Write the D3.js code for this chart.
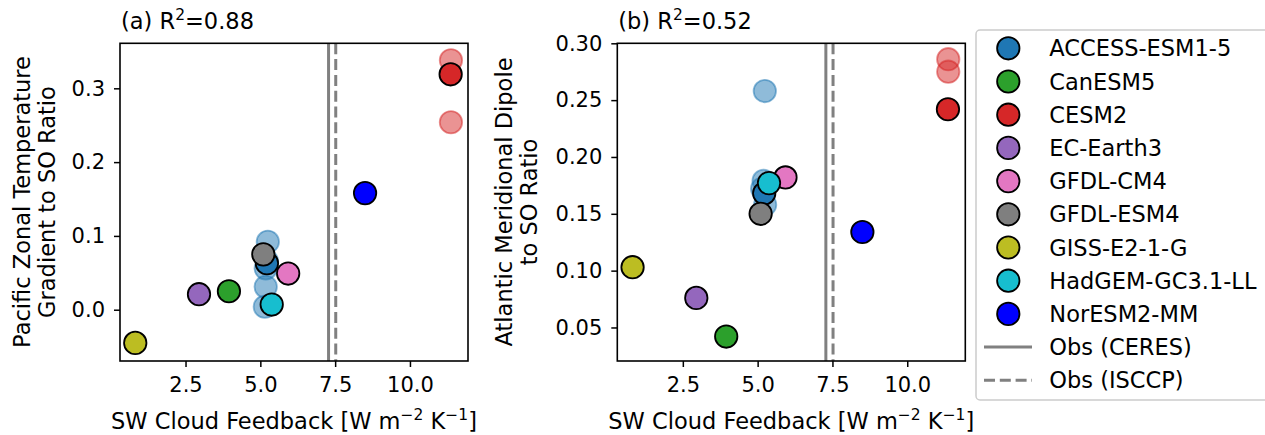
<!DOCTYPE html>
<html><head><meta charset="utf-8">
<script src="https://cdn.jsdelivr.net/npm/d3@7"></script>
<style>body{margin:0;background:#fff}svg{display:block}text{font-family:"DejaVu Sans",sans-serif;fill:#000}</style>
</head><body><svg id="c" width="1265" height="435"></svg>
<script>
const models = ["ACCESS-ESM1-5","CanESM5","CESM2","EC-Earth3","GFDL-CM4","GFDL-ESM4","GISS-E2-1-G","HadGEM-GC3.1-LL","NorESM2-MM"];
const colors = ["#1f77b4","#2ca02c","#d62728","#9467bd","#e377c2","#7f7f7f","#bcbd22","#17becf","#0000ff"];
const swFeedback = [5.22, 3.95, 11.36, 2.95, 5.93, 5.10, 0.82, 5.38, 8.50];
const pacificRatio = [0.063, 0.025, 0.319, 0.021, 0.049, 0.075, -0.045, 0.007, 0.158];
const atlanticRatio = [0.168, 0.042, 0.242, 0.076, 0.182, 0.150, 0.103, 0.177, 0.134];
// ensemble members (faded): [modelIndex, x, y]
const pacificMembers = [[0,5.25,0.092],[0,5.18,0.056],[0,5.18,0.031],[0,5.15,0.004],[0,5.22,0.066],[2,11.37,0.338],[2,11.37,0.254]];
const atlanticMembers = [[0,5.24,0.258],[0,5.20,0.179],[0,5.25,0.158],[0,5.15,0.172],[2,11.37,0.286],[2,11.37,0.275]];
const obsCERES = 7.28, obsISCCP = 7.52;
const xTicks = [2.5,5.0,7.5,10.0];
const pacTicks = [0.0,0.1,0.2,0.3];
const atlTicks = [0.05,0.10,0.15,0.20,0.25,0.30];

const svg = d3.select("#c");
const FS = 21;
const LFS = "22.5px";

function panel(opt){
  const g = svg.append("g");
  const x = d3.scaleLinear().domain([0.31,11.94]).range([opt.left, opt.left+348]);
  const y = d3.scaleLinear().domain(opt.ydom).range([361, 43.3]);
  g.append("line").attr("x1",x(obsCERES)).attr("x2",x(obsCERES)).attr("y1",43.3).attr("y2",361)
    .attr("stroke","#808080").attr("stroke-width",3);
  g.append("line").attr("x1",x(obsISCCP)).attr("x2",x(obsISCCP)).attr("y1",43.3).attr("y2",361)
    .attr("stroke","#808080").attr("stroke-width",3).attr("stroke-dasharray","11,4.8");
  models.forEach((m,i)=>{
    opt.members.filter(d=>d[0]===i).forEach(d=>{
      g.append("circle").attr("cx",x(d[1])).attr("cy",y(d[2])).attr("r",11.2)
        .attr("fill",colors[i]).attr("fill-opacity",0.5)
        .attr("stroke",colors[i]).attr("stroke-opacity",0.5).attr("stroke-width",1.8);
    });
  });
  models.forEach((m,i)=>{
    g.append("circle").attr("cx",x(swFeedback[i])).attr("cy",y(opt.vals[i])).attr("r",11.2)
      .attr("fill",colors[i]).attr("stroke","#000").attr("stroke-width",1.8);
  });
  const xa = g.append("g").attr("transform","translate(0,361)")
    .call(d3.axisBottom(x).tickValues(xTicks).tickFormat(d3.format(".1f")).tickSize(6).tickPadding(9));
  const ya = g.append("g").attr("transform",`translate(${opt.left},0)`)
    .call(d3.axisLeft(y).tickValues(opt.ticks).tickFormat(d3.format(opt.fmt)).tickSize(6).tickPadding(9));
  [xa,ya].forEach(a=>{
    a.select(".domain").remove();
    a.selectAll("line").attr("stroke","#000").attr("stroke-width",1.5);
    a.selectAll("text").style("font-size",FS+"px").style("font-family","DejaVu Sans").attr("fill","#000");
  });
  xa.selectAll("text").attr("dy","0.75em");
  g.append("rect").attr("x",opt.left).attr("y",43.3).attr("width",348).attr("height",361-43.3)
    .attr("fill","none").attr("stroke","#000").attr("stroke-width",1.6);
  const t = g.append("text").attr("x",opt.left+1).attr("y",29).style("font-size",LFS);
  t.append("tspan").text(opt.title);
  t.append("tspan").attr("dy",-9).style("font-size","15.5px").text("2");
  t.append("tspan").attr("dy",9).text("="+opt.r2);
  const xl = g.append("text").attr("x",opt.left+174).attr("y",429).attr("text-anchor","middle").style("font-size",LFS);
  xl.append("tspan").text("SW Cloud Feedback [W m");
  xl.append("tspan").attr("dy",-9).style("font-size","15.5px").text("\u22122");
  xl.append("tspan").attr("dy",9).text(" K");
  xl.append("tspan").attr("dy",-9).style("font-size","15.5px").text("\u22121");
  xl.append("tspan").attr("dy",9).text("]");
  opt.ylab.forEach((s,k)=>{
    g.append("text").attr("transform",`translate(${opt.ylx[k]},202) rotate(-90)`)
      .attr("text-anchor","middle").style("font-size",LFS).text(s);
  });
}

panel({left:120, ydom:[-0.0695,0.361], vals:pacificRatio, members:pacificMembers, ticks:pacTicks, fmt:".1f",
  title:"(a) R", r2:"0.88", ylab:["Pacific Zonal Temperature","Gradient to SO Ratio"], ylx:[30,54.5]});
panel({left:617.3, ydom:[0.0205,0.300], vals:atlanticRatio, members:atlanticMembers, ticks:atlTicks, fmt:".2f",
  title:"(b) R", r2:"0.52", ylab:["Atlantic Meridional Dipole","to SO Ratio"], ylx:[512,537]});

const lg = svg.append("g");
lg.append("rect").attr("x",976).attr("y",30).attr("width",300).attr("height",370).attr("rx",4)
  .attr("fill","#fff").attr("stroke","#cccccc").attr("stroke-width",1.5);
const rowY = i => 48.3 + i*33.2;
models.forEach((m,i)=>{
  lg.append("circle").attr("cx",1008.3).attr("cy",rowY(i)).attr("r",11.2)
    .attr("fill",colors[i]).attr("stroke","#000").attr("stroke-width",1.8);
  lg.append("text").attr("x",1049.3).attr("y",rowY(i)).attr("dy","0.36em").style("font-size",LFS).text(m);
});
const obsLabels = ["Obs (CERES)","Obs (ISCCP)"];
obsLabels.forEach((s,k)=>{
  const yy = rowY(9+k);
  const ln = lg.append("line").attr("x1",984).attr("x2",1032).attr("y1",yy).attr("y2",yy)
    .attr("stroke","#808080").attr("stroke-width",3);
  if(k===1) ln.attr("stroke-dasharray","11,4.8");
  lg.append("text").attr("x",1049.3).attr("y",yy).attr("dy","0.36em").style("font-size",LFS).text(s);
});
</script></body></html>
